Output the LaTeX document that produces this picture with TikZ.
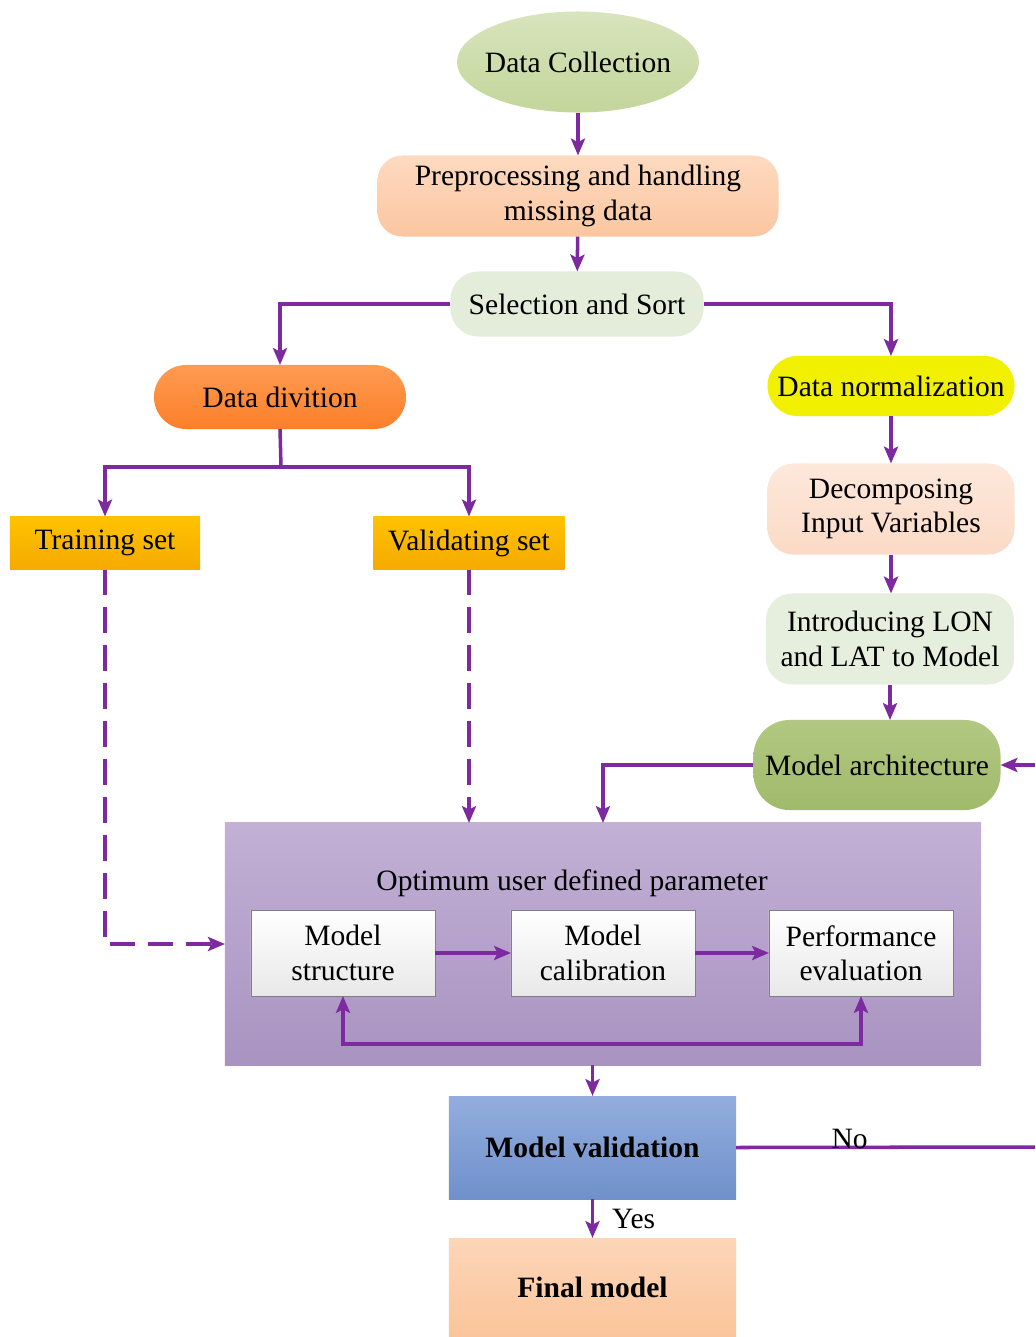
\documentclass[tikz,border=0pt]{standalone}
\usepackage{fontspec}
\setmainfont{Liberation Serif}
\usetikzlibrary{shapes,positioning,arrows.meta,calc}
\usepackage{xcolor}

\definecolor{lnk}{RGB}{125,42,160}

\begin{document}
\begin{tikzpicture}[x=0.025cm,y=-0.025cm,>={Stealth[length=12pt,width=10pt,inset=2.5pt]},
  font=\fontsize{21}{24.5}\selectfont,
  every node/.style={inner sep=0pt,outer sep=0pt,align=center},
  flow/.style={draw=lnk,line width=2.5pt},
  inbox/.style={draw=gray,thin,top color=white,bottom color=black!9,minimum width=4.6cm,minimum height=2.15cm}]

\useasboundingbox (0,0) rectangle (1035,1337);

% draw upper part
\node[ellipse,inner xsep=-12pt,top color={rgb,255:red,216;green,228;blue,189},bottom color={rgb,255:red,195;green,214;blue,155},minimum width=6.05cm,minimum height=2.525cm] (collect) at (578,62) {Data Collection};
\node[rounded corners=0.625cm,top color={rgb,255:red,253;green,218;blue,192},bottom color={rgb,255:red,251;green,198;blue,160},minimum width=10.025cm,minimum height=2.025cm] (prep) at (578,196) {Preprocessing and handling\\missing data};
\node[rounded corners=0.7cm,fill={rgb,255:red,228;green,236;blue,218},minimum width=6.325cm,minimum height=1.625cm] (sel) at (577,304) {Selection and Sort};

% draw left branch
\node[rounded corners=0.8cm,top color={rgb,255:red,255;green,155;blue,80},bottom color={rgb,255:red,251;green,127;blue,42},minimum width=6.3cm,minimum height=1.6cm] (ddiv) at (280,397) {Data divition};
\node[top color={rgb,255:red,255;green,194;blue,0},bottom color={rgb,255:red,245;green,170;blue,0},minimum width=4.75cm,minimum height=1.325cm] (train) at (105,543) {Training set};
\node[top color={rgb,255:red,255;green,194;blue,0},bottom color={rgb,255:red,245;green,170;blue,0},minimum width=4.775cm,minimum height=1.325cm] (valid) at (469,543) {Validating set};
\coordinate (split) at (281,467);

% draw right branch
\node[rounded corners=0.75cm,fill={rgb,255:red,240;green,240;blue,0},minimum width=6.175cm,minimum height=1.5cm] (norm) at (891,386) {Data normalization};
\node[rounded corners=0.65cm,top color={rgb,255:red,253;green,232;blue,219},bottom color={rgb,255:red,251;green,218;blue,198},minimum width=6.175cm,minimum height=2.275cm] (decomp) at (891,509) {Decomposing\\Input Variables};
\node[rounded corners=0.65cm,fill={rgb,255:red,230;green,238;blue,221},minimum width=6.2cm,minimum height=2.275cm] (intro) at (890,639) {Introducing LON\\and LAT to Model};
\node[rounded corners=0.9cm,top color={rgb,255:red,178;green,200;blue,130},bottom color={rgb,255:red,160;green,186;blue,107},minimum width=6.175cm,minimum height=2.25cm] (arch) at (877,765) {Model architecture};

% draw tuning block
\node[top color={rgb,255:red,194;green,176;blue,213},bottom color={rgb,255:red,169;green,147;blue,193},minimum width=18.9cm,minimum height=6.05cm] (tune) at (603,944) {};
\node (optlbl) at (572,883) {Optimum user defined parameter};
\node[inbox] (struct) at (343,953) {Model\\structure};
\node[inbox] (calib) at (603,953) {Model\\calibration};
\node[inbox] (perf) at (861,953) {Performance\\evaluation};

% draw validation and result
\node[top color={rgb,255:red,147;green,174;blue,221},bottom color={rgb,255:red,112;green,144;blue,204},minimum width=7.175cm,minimum height=2.575cm,font=\fontsize{21}{24.5}\selectfont\bfseries] (mval) at (592.5,1147.5) {Model validation};
\node[top color={rgb,255:red,252;green,214;blue,184},bottom color={rgb,255:red,251;green,196;blue,155},minimum width=7.175cm,minimum height=2.475cm,font=\fontsize{21}{24.5}\selectfont\bfseries] (final) at (592.5,1287.5) {Final model};
\coordinate (noend) at (1035,1147);
\coordinate (archin) at (1035,765);

% connect upper part
\draw[flow,->] (collect) -- (prep);
\draw[flow,->] (prep) -- (sel);
\draw[flow,->] (sel.west) -| (ddiv.north);
\draw[flow,->] (sel.east) -| (norm.north);

% connect left branch
\draw[flow] (ddiv.south) -- (split);
\draw[flow,->] (split) -| (train.north);
\draw[flow,->] (split) -| (valid.north);
\draw[flow,->,dash pattern=on 18pt off 9pt] (train.south) |- (tune.west);
\draw[flow,->,dash pattern=on 18pt off 9pt] (valid.south) -- (valid.south |- tune.north);

% connect right branch
\foreach \a/\b in {norm/decomp,decomp/intro,intro/arch}
{
  \draw[flow,->] (\a.south) -- (\a.south |- \b.north);
}
\draw[flow,->] (arch.west) -| (tune.north);
\draw[flow,->] (archin) -- (arch.east);

% connect tuning block
\draw[flow,->] (struct) -- (calib);
\draw[flow,->] (calib) -- (perf);
\draw[flow,<->] (struct.south) -- ++(0,48) -| (perf.south);

% connect validation
\draw[flow,->] (tune.south -| mval.north) -- (mval.north);
\draw[flow] (mval.east) -- node[pos=0.38,above=-1pt] {No} (noend);
\draw[flow,->] (mval.south) -- node[right=14pt,pos=0.5] {Yes} (final.north);

\end{tikzpicture}
\end{document}
